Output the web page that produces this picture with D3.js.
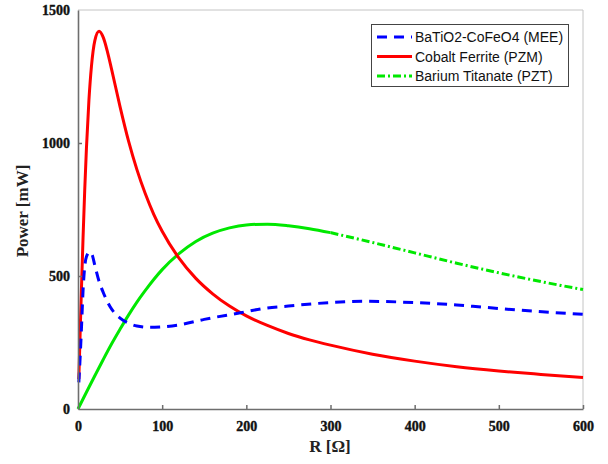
<!DOCTYPE html>
<html>
<head>
<meta charset="utf-8">
<script src="https://cdn.jsdelivr.net/npm/d3@7"></script>
<style>
  body { margin: 0; background: #fff; }
  .tick text { font-family: "Liberation Serif", "Times New Roman", serif; font-weight: bold; font-size: 14px; fill: #111; stroke: #111; stroke-width: 0.4px; }
  .axisTitle { font-family: "Liberation Serif", "Times New Roman", serif; font-weight: bold; font-size: 17px; fill: #222; }
  .legend text { font-family: "Liberation Sans", Arial, sans-serif; font-size: 14px; fill: #111; }
</style>
</head>
<body>
<script>
// Width and height
var w = 608,
    h = 464;

// Load resistance R [Ohm] for the red series
var rRes = [1, 2, 3, 4, 6, 8, 10, 13, 16, 20, 25, 30, 35, 40, 50, 60, 70, 80, 90, 100,
            120, 140, 160, 180, 200, 225, 250, 275, 300, 350, 400, 450, 500, 550, 600];
// Cobalt Ferrite (PZM) power [mW]
var cobaltFerrite = [113, 226, 336, 443, 644, 824, 979, 1162, 1289, 1385, 1420, 1397, 1343, 1276, 1136, 1008, 900, 809, 732, 668,
                     567, 491, 433, 387, 350, 314, 284, 260, 240, 206, 180, 159, 143, 130, 118];

// BaTiO2-CoFeO4 (MEE)
var rMee = [1, 2, 4, 6, 8, 10, 14, 17, 20, 25, 30, 38, 50, 60, 70, 85, 100, 120, 150, 190,
            225, 250, 285, 340, 400, 450, 480, 540, 600];
var mee = [100, 160, 295, 445, 535, 572, 590, 578, 540, 480, 438, 385, 342, 323, 312, 307, 309, 316, 337, 360,
           380, 387, 397, 405, 400, 391, 383, 368, 356];

// Barium Titanate (PZT)
var rPzt = [0, 10, 20, 30, 40, 50, 60, 70, 80, 90, 100, 120, 140, 160, 180, 200, 225, 250, 275, 300,
            350, 400, 450, 500, 550, 600];
var bariumTitanate = [0, 63, 125, 186, 245, 300, 353, 402, 446, 487, 524, 584, 630, 661, 681, 692, 695, 689, 678, 663,
                      626, 587, 548, 512, 479, 449];

var xTicks = [0, 100, 200, 300, 400, 500, 600];
var yTicks = [0, 500, 1000, 1500];

var legendNames = ['BaTiO2-CoFeO4 (MEE)', 'Cobalt Ferrite (PZM)', 'Barium Titanate (PZT)'];

function toPoints(xs, ys) {
  return xs.map(function(x, i) { return { r: x, p: ys[i] }; });
}

var meeData = toPoints(rMee, mee),
    pzmData = toPoints(rRes, cobaltFerrite),
    pztData = toPoints(rPzt, bariumTitanate);

// Set scales
var xScale = d3.scaleLinear().domain([0, 600]).range([78, 583]);
var yScale = d3.scaleLinear().domain([0, 1500]).range([409, 10]);

var svg = d3.select('body')
            .append('svg')
            .attr('width', w)
            .attr('height', h);

// light frame on top and right
svg.append('path')
   .attr('d', 'M' + xScale(0) + ',' + yScale(1500) + 'H' + xScale(600) + 'V' + yScale(0))
   .attr('fill', 'none')
   .attr('stroke', '#c4c4c4')
   .attr('stroke-width', 1);

var line = d3.line()
             .curve(d3.curveMonotoneX)
             .x(function(d) { return xScale(d.r); })
             .y(function(d) { return yScale(d.p); });

// green: solid where points are dense, dash-dot after ~300 Ohm
svg.append('path')
   .datum(pztData.filter(function(d) { return d.r <= 300; }))
   .attr('fill', 'none')
   .attr('stroke', '#00e800')
   .attr('stroke-width', 3)
   .attr('d', line);

svg.append('path')
   .datum(pztData.filter(function(d) { return d.r >= 300; }))
   .attr('fill', 'none')
   .attr('stroke', '#00e800')
   .attr('stroke-width', 3)
   .attr('stroke-dasharray', '8,3,2,3')
   .attr('d', line);

svg.append('path')
   .datum(pzmData)
   .attr('fill', 'none')
   .attr('stroke', '#ff0000')
   .attr('stroke-width', 3)
   .attr('d', line);

svg.append('path')
   .datum(meeData)
   .attr('fill', 'none')
   .attr('stroke', '#0000ff')
   .attr('stroke-width', 3)
   .attr('stroke-dasharray', '10,7')
   .attr('d', line);

// Create axes
var xAxis = d3.axisBottom(xScale)
              .tickValues(xTicks)
              .tickFormat(d3.format('d'))
              .tickSizeInner(-4)
              .tickSizeOuter(0)
              .tickPadding(12);

var yAxis = d3.axisLeft(yScale)
              .tickValues(yTicks)
              .tickFormat(d3.format('d'))
              .tickSizeInner(-4)
              .tickSizeOuter(0)
              .tickPadding(8);

var gx = svg.append('g')
   .attr('transform', 'translate(0,' + yScale(0) + ')')
   .call(xAxis);

var gy = svg.append('g')
   .attr('transform', 'translate(' + xScale(0) + ',0)')
   .call(yAxis);

[gx, gy].forEach(function(g) {
  g.select('.domain').attr('stroke', '#6e6e6e').attr('stroke-width', 1.6);
  g.selectAll('.tick line').attr('stroke', '#6e6e6e').attr('stroke-width', 1.5);
});
gy.selectAll('.tick line').filter(function(d) { return d === 0 || d === 1500; }).remove();
gx.selectAll('.tick line').filter(function(d) { return d === 0; }).remove();

// axis titles
svg.append('text')
   .attr('class', 'axisTitle')
   .attr('x', 330)
   .attr('y', 452)
   .attr('text-anchor', 'middle')
   .text('R [Ω]');

svg.append('text')
   .attr('class', 'axisTitle')
   .attr('transform', 'translate(28,211) rotate(-90)')
   .attr('text-anchor', 'middle')
   .text('Power [mW]');

// Legend
var legend = svg.append('g').attr('class', 'legend');

legend.append('rect')
      .attr('x', 371.5)
      .attr('y', 24.5)
      .attr('width', 197)
      .attr('height', 62)
      .attr('fill', '#fff')
      .attr('stroke', '#444')
      .attr('stroke-width', 1);

var legendStyles = [
  { color: '#0000ff', dash: '10,7' },
  { color: '#ff0000', dash: null },
  { color: '#00e800', dash: '8,3,2,3' }
];

legendNames.forEach(function(name, i) {
  var y = 37 + i * 19.5;
  legend.append('line')
        .attr('x1', 377)
        .attr('x2', 412)
        .attr('y1', y)
        .attr('y2', y)
        .attr('stroke', legendStyles[i].color)
        .attr('stroke-width', 3)
        .attr('stroke-dasharray', legendStyles[i].dash);
  legend.append('text')
        .attr('x', 415)
        .attr('y', y + 5)
        .text(name);
});
</script>
</body>
</html>
